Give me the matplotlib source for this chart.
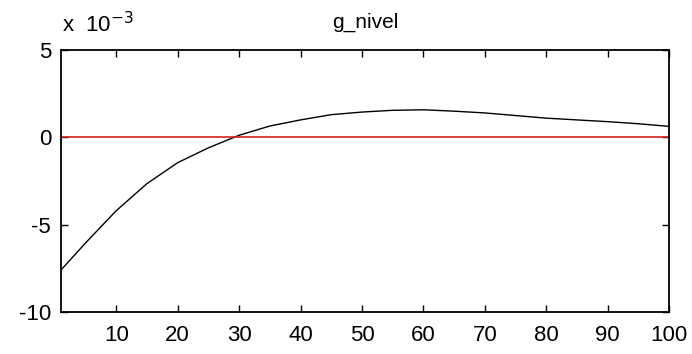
import matplotlib.pyplot as plt

plt.rcParams['font.family'] = ['Liberation Sans', 'DejaVu Sans']

# g_nivel values (units of 1e-3)
x_vals = [1, 5, 10, 15, 20, 25, 30, 35, 40, 45, 50,
          55, 60, 65, 70, 75, 80, 85, 90, 95, 100]
g_nivel = [-7.6, -6.05, -4.2, -2.65, -1.45, -0.6, 0.12, 0.65, 1.0, 1.3, 1.45,
           1.55, 1.58, 1.5, 1.4, 1.25, 1.1, 1.0, 0.9, 0.78, 0.63]
x_ticks = [10, 20, 30, 40, 50, 60, 70, 80, 90, 100]
y_ticks = [-10, -5, 0, 5]


def main():
    fig = plt.figure(figsize=(6.92, 3.54), dpi=100)
    ax = fig.add_axes([0.088, 0.1186, 0.879, 0.740])

    ax.plot(x_vals, [v * 1e-3 for v in g_nivel], color='black', lw=1.0)
    ax.plot([1, 100], [0, 0], color='#d42020', lw=1.2)

    ax.set_xlim(1, 100)
    ax.set_ylim(-10e-3, 5e-3)
    ax.set_xticks(x_ticks)
    ax.set_xticklabels([str(t) for t in x_ticks])
    ax.set_yticks([t * 1e-3 for t in y_ticks])
    ax.set_yticklabels([str(t) for t in y_ticks])
    ax.tick_params(direction='in', length=5, width=1, top=True, right=True,
                   labelsize=16, colors='black')
    ax.tick_params(axis='y', pad=7)
    ax.tick_params(axis='x', pad=9)
    for s in ax.spines.values():
        s.set_linewidth(1.3)

    ax.set_title('g_nivel', fontsize=15, pad=16)
    fig.text(0.09, 0.895, 'x  10$^{-3}$', fontsize=16, ha='left', va='bottom')

    fig.savefig('out.png', dpi=100)


if __name__ == '__main__':
    main()
